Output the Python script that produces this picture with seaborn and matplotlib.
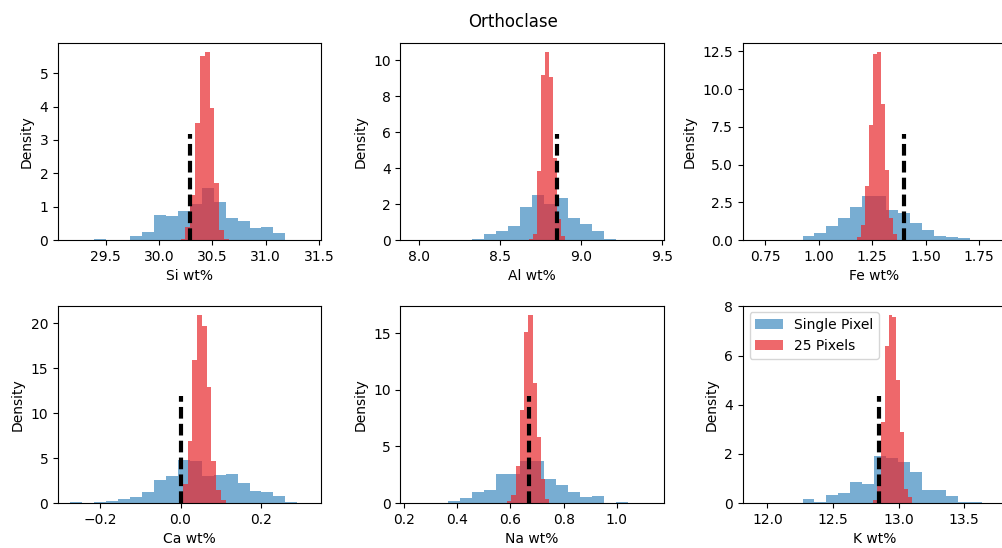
import numpy as np
import pandas as pd
import matplotlib
matplotlib.use("Agg")
import matplotlib.pyplot as plt
from matplotlib.ticker import MultipleLocator
import seaborn as sns

# Elements shown, in panel order, and the reference composition of each
elements = ["Si", "Al", "Fe", "Ca", "Na", "K"]
reference_wt = [30.29, 8.85, 1.40, 0.0, 0.67, 12.85]

# Single-pixel histograms: first bin edge, bin width and density per bin (20 bins)
single_start = [29.166, 7.961, 0.7014, -0.275, 0.2312, 11.903]
single_width = [0.1122, 0.0738, 0.0559, 0.02977, 0.04498, 0.0912]
si_single = [0.01, 0.0, 0.03, 0.01, 0.0, 0.12, 0.26, 0.75, 0.72, 0.87,
             1.08, 1.57, 1.13, 0.67, 0.57, 0.37, 0.39, 0.22, 0.0, 0.01]
al_single = [0.01, 0.0, 0.0, 0.0, 0.0, 0.07, 0.37, 0.5, 0.78, 1.86,
             2.5, 2.0, 2.36, 1.25, 0.91, 0.5, 0.06, 0.0, 0.03, 0.01]
fe_single = [0.01, 0.0, 0.0, 0.03, 0.26, 0.5, 0.92, 1.49, 2.19, 2.92,
             2.92, 1.97, 1.8, 1.16, 0.66, 0.26, 0.18, 0.13, 0.02, 0.01]
ca_single = [0.12, 0.03, 0.1, 0.18, 0.4, 0.7, 1.2, 2.55, 2.96, 4.75,
             4.65, 2.95, 3.1, 3.25, 2.2, 1.3, 1.22, 0.78, 0.15, 0.02]
na_single = [0.01, 0.0, 0.0, 0.2, 0.42, 0.95, 1.15, 2.6, 2.55, 3.75,
             3.75, 2.12, 1.6, 1.0, 0.55, 0.6, 0.0, 0.08, 0.0, 0.02]
k_single = [0.01, 0.0, 0.0, 0.0, 0.18, 0.04, 0.32, 0.42, 0.85, 0.76,
            1.9, 1.82, 1.68, 1.27, 0.52, 0.52, 0.29, 0.06, 0.06, 0.01]

# 25-pixel averaged histograms: first bin edge, bin width and density per bin (10 bins)
avg_start = [30.203, 8.679, 1.179, 0.0058, 0.5875, 12.807]
avg_width = [0.0453, 0.02469, 0.01888, 0.01178, 0.0159, 0.0292]
si_avg = [0.03, 0.4, 1.35, 3.5, 5.5, 5.63, 3.95, 1.72, 0.3, 0.05]
al_avg = [0.05, 0.32, 3.85, 9.2, 10.46, 9.1, 4.55, 1.2, 0.25, 0.03]
fe_avg = [0.2, 1.0, 3.6, 7.6, 12.3, 12.45, 9.0, 4.65, 1.5, 0.4]
ca_avg = [2.1, 6.9, 15.9, 20.9, 19.7, 12.9, 4.7, 1.5, 0.3, 0.05]
na_avg = [0.15, 0.7, 3.3, 8.2, 15.1, 16.6, 10.6, 5.8, 2.1, 0.35]
k_avg = [0.12, 1.0, 3.3, 6.4, 7.65, 7.55, 5.0, 2.9, 0.57, 0.23]

single_dens = [si_single, al_single, fe_single, ca_single, na_single, k_single]
avg_dens = [si_avg, al_avg, fe_avg, ca_avg, na_avg, k_avg]
series_labels = ["Single Pixel", "25 Pixels"]

# Spacing of the density ticks on each panel
density_tick_step = [1, 2, 2.5, 5, 5, 2]

SINGLE_COLOR = "#1f77b4"
AVG_COLOR = "#e8282d"


def draw_hist(ax, start, width, dens, color, alpha, label):
    dens = np.asarray(dens, dtype=float)
    edges = start + width * np.arange(len(dens) + 1)
    centers = 0.5 * (edges[:-1] + edges[1:])
    frame = pd.DataFrame({"value": centers, "density": dens})
    sns.histplot(data=frame, x="value", weights="density", bins=list(edges),
                 stat="count", common_bins=False, color=color, alpha=alpha,
                 linewidth=0, ax=ax, label=label)


fig, axes = plt.subplots(2, 3, figsize=(10.02, 5.48), dpi=100)
fig.subplots_adjust(left=0.0579, right=1.004, top=0.922, bottom=0.0821,
                    wspace=0.30, hspace=0.331)

for i, ax in enumerate(axes.flat):
    draw_hist(ax, single_start[i], single_width[i], single_dens[i],
              SINGLE_COLOR, 0.6, series_labels[0])
    draw_hist(ax, avg_start[i], avg_width[i], avg_dens[i],
              AVG_COLOR, 0.7, series_labels[1])
    ax.axvline(reference_wt[i], ymax=0.54, color="k", lw=3,
               linestyle=(0, (2.8, 1.25)))
    ax.yaxis.set_major_locator(MultipleLocator(density_tick_step[i]))
    ax.set_xlabel(f"{elements[i]} wt%")
    ax.set_ylabel("Density")

axes.flat[-1].legend(loc="upper left")

fig.suptitle("Orthoclase", x=0.512, y=1 - 27 / 548, va="baseline", fontsize=12)

fig.savefig("out.png", dpi=100)
